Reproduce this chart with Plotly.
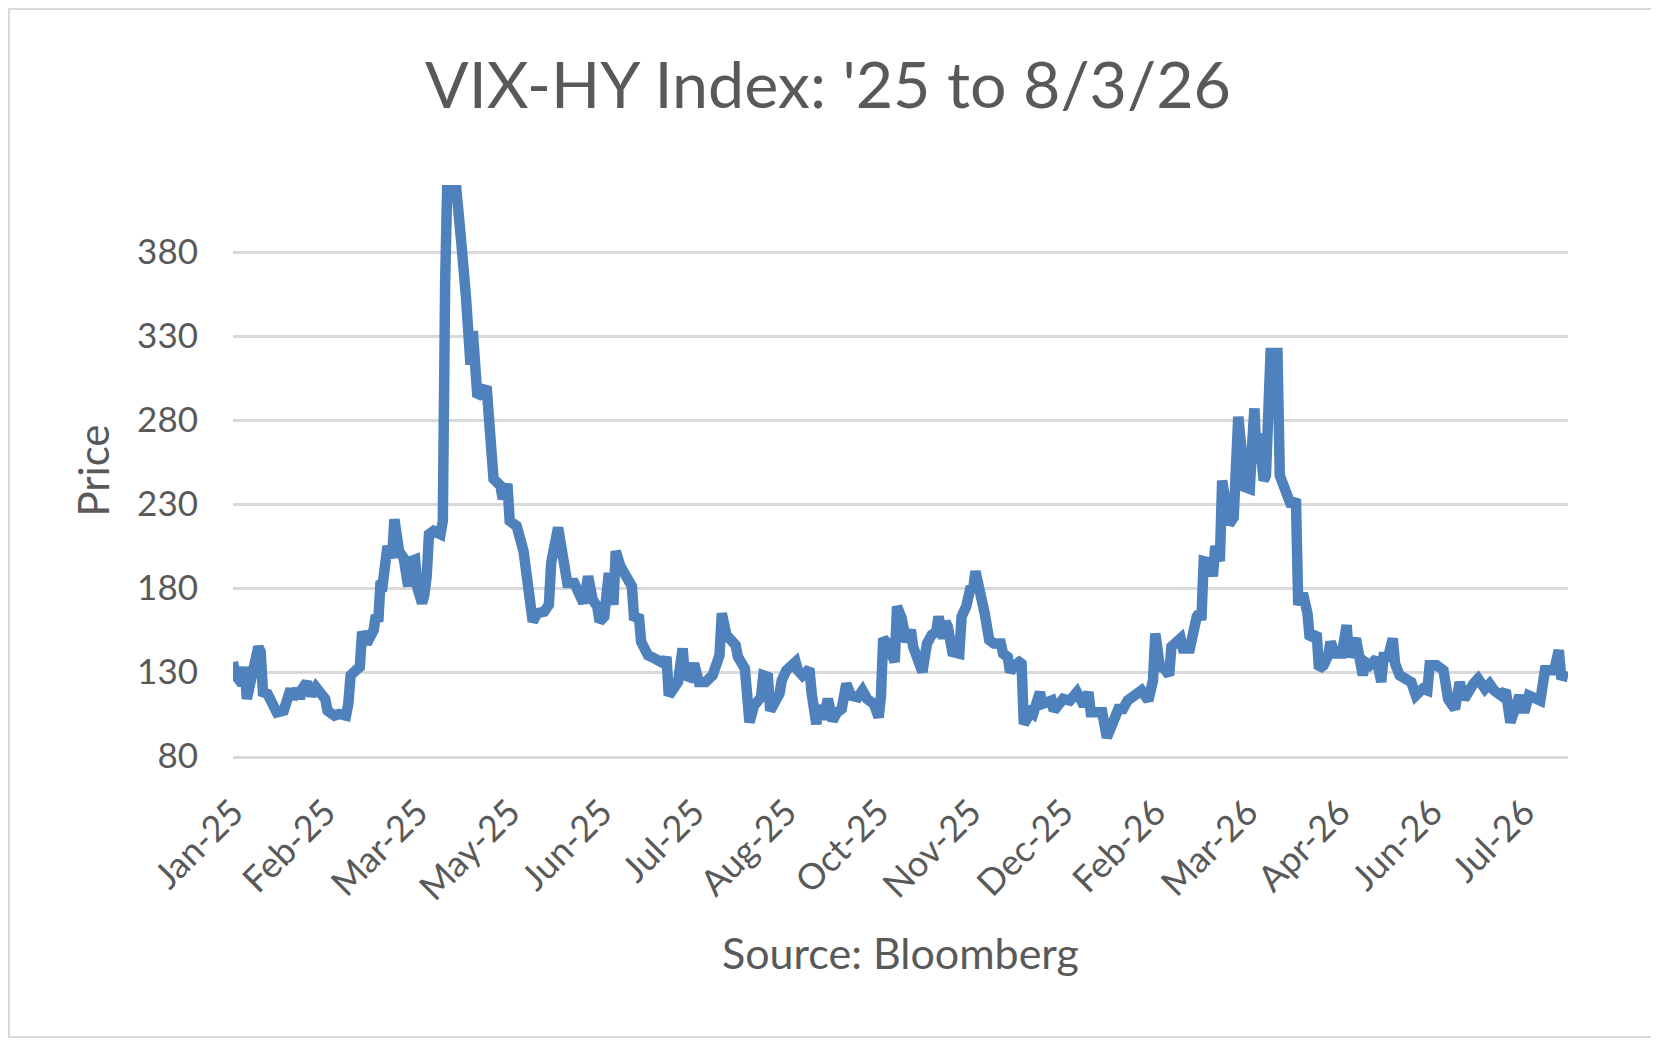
import plotly.graph_objects as go

# Excel-like palette
LINE_BLUE = "#4f81bd"
TEXT_GREY = "#595959"
GRID_GREY = "#d9d9d9"
FONT = "Lato, 'Open Sans', sans-serif"

# VIX-HY index readings (Bloomberg)
dates_2025 = [
    "2025-01-01", "2025-01-02", "2025-01-05", "2025-01-06", "2025-01-07", "2025-01-09",
    "2025-01-12", "2025-01-13", "2025-01-14", "2025-01-16", "2025-01-18", "2025-01-20",
    "2025-01-23", "2025-01-26", "2025-01-27", "2025-01-29", "2025-01-30", "2025-01-31",
    "2025-02-02", "2025-02-04", "2025-02-06", "2025-02-10", "2025-02-11", "2025-02-14",
    "2025-02-16", "2025-02-19", "2025-02-20", "2025-02-21", "2025-02-24", "2025-02-25",
    "2025-02-26", "2025-02-28",
    "2025-03-03", "2025-03-04", "2025-03-05", "2025-03-06", "2025-03-07", "2025-03-09",
    "2025-03-11", "2025-03-12", "2025-03-14", "2025-03-16", "2025-03-18", "2025-03-19",
    "2025-03-21", "2025-03-22", "2025-03-24", "2025-03-25", "2025-03-26", "2025-03-27",
    "2025-03-29",
    "2025-04-01", "2025-04-02", "2025-04-03", "2025-04-04", "2025-04-07", "2025-04-09",
    "2025-04-10", "2025-04-12", "2025-04-13", "2025-04-14", "2025-04-15", "2025-04-16",
    "2025-04-17", "2025-04-19", "2025-04-21", "2025-04-23", "2025-04-24", "2025-04-27",
    "2025-04-28", "2025-04-30",
    "2025-05-01", "2025-05-04", "2025-05-06", "2025-05-07", "2025-05-09", "2025-05-11",
    "2025-05-13", "2025-05-16", "2025-05-18", "2025-05-19", "2025-05-22", "2025-05-24",
    "2025-05-26", "2025-05-29", "2025-05-31",
    "2025-06-02", "2025-06-04", "2025-06-06", "2025-06-08", "2025-06-09", "2025-06-11",
    "2025-06-12", "2025-06-13", "2025-06-15", "2025-06-16", "2025-06-18", "2025-06-21",
    "2025-06-23", "2025-06-24", "2025-06-26", "2025-06-27", "2025-06-30",
    "2025-07-03", "2025-07-07", "2025-07-08", "2025-07-09", "2025-07-10", "2025-07-13",
    "2025-07-14", "2025-07-15", "2025-07-16", "2025-07-18", "2025-07-20", "2025-07-22",
    "2025-07-25", "2025-07-28", "2025-07-30", "2025-07-31",
    "2025-08-01", "2025-08-03", "2025-08-07", "2025-08-08", "2025-08-11", "2025-08-13",
    "2025-08-15", "2025-08-18", "2025-08-19", "2025-08-21", "2025-08-22", "2025-08-24",
    "2025-08-26", "2025-08-27", "2025-08-29",
    "2025-09-02", "2025-09-03", "2025-09-05", "2025-09-08", "2025-09-09", "2025-09-11",
    "2025-09-12", "2025-09-14", "2025-09-16", "2025-09-18", "2025-09-20", "2025-09-22",
    "2025-09-24", "2025-09-26", "2025-09-29",
    "2025-10-01", "2025-10-03", "2025-10-06", "2025-10-08", "2025-10-09", "2025-10-10",
    "2025-10-12", "2025-10-15", "2025-10-16", "2025-10-18", "2025-10-19", "2025-10-20",
    "2025-10-22", "2025-10-23", "2025-10-27", "2025-10-29", "2025-10-31",
    "2025-11-02", "2025-11-03", "2025-11-05", "2025-11-06", "2025-11-07", "2025-11-09",
    "2025-11-12", "2025-11-13", "2025-11-15", "2025-11-17", "2025-11-18", "2025-11-19",
    "2025-11-21", "2025-11-23", "2025-11-25", "2025-11-27", "2025-11-30",
    "2025-12-01", "2025-12-03", "2025-12-04", "2025-12-06", "2025-12-08", "2025-12-09",
    "2025-12-10", "2025-12-13", "2025-12-14", "2025-12-17", "2025-12-18", "2025-12-22",
    "2025-12-23", "2025-12-27", "2025-12-30",
]
vix_hy_2025 = [
    136, 128, 123, 133, 114, 129, 145, 142, 118, 117, 112, 106, 107, 120, 114, 120, 114, 120,
    124, 116, 121, 114, 107, 104, 105, 104, 111, 128, 132, 133, 154, 147,
    155, 164, 160, 184, 183, 205, 198, 221, 202, 198, 181, 196, 197, 180, 171, 176, 187, 212,
    214,
    212, 220, 361, 425, 430, 389, 386, 354, 336, 313, 333, 315, 294, 296, 300, 263, 245, 241,
    233, 242,
    220, 217, 206, 202, 181, 160, 165, 166, 170, 195, 216, 195, 183, 183, 178,
    171, 187, 173, 169, 160, 163, 189, 189, 170, 202, 193, 186, 181, 161, 164, 148, 140,
    138, 135, 139, 116, 118, 124, 142, 144, 128, 127, 135, 124, 124, 128, 136, 140,
    165, 152, 146, 139, 132, 100, 110, 115, 128, 127, 107, 113, 117, 125, 131,
    136, 131, 128, 132, 117, 99, 110, 102, 114, 101, 106, 108, 123, 116, 115,
    119, 114, 111, 103, 115, 150, 147, 136, 169, 162, 149, 148, 155, 145, 130, 147, 152,
    154, 163, 150, 160, 157, 142, 141, 163, 169, 181, 179, 190, 179, 165, 149, 147, 147,
    141, 139, 130, 134, 136, 135, 99, 106, 105, 118, 111, 113, 107, 114, 113,
]

dates_2026 = [
    "2026-01-02", "2026-01-05", "2026-01-07", "2026-01-08", "2026-01-13", "2026-01-15",
    "2026-01-20", "2026-01-22", "2026-01-24", "2026-01-27", "2026-01-30",
    "2026-02-02", "2026-02-04", "2026-02-05", "2026-02-07", "2026-02-09", "2026-02-11",
    "2026-02-12", "2026-02-16", "2026-02-17", "2026-02-20", "2026-02-23", "2026-02-24",
    "2026-02-25", "2026-02-26",
    "2026-03-01", "2026-03-02", "2026-03-03", "2026-03-05", "2026-03-06", "2026-03-08",
    "2026-03-09", "2026-03-11", "2026-03-12", "2026-03-13", "2026-03-16", "2026-03-18",
    "2026-03-19", "2026-03-20", "2026-03-21", "2026-03-22", "2026-03-24", "2026-03-25",
    "2026-03-27", "2026-03-30", "2026-03-31",
    "2026-04-03", "2026-04-05", "2026-04-07", "2026-04-08", "2026-04-10", "2026-04-12",
    "2026-04-13", "2026-04-16", "2026-04-17", "2026-04-19", "2026-04-21", "2026-04-22",
    "2026-04-24", "2026-04-27", "2026-04-29", "2026-04-30",
    "2026-05-03", "2026-05-06", "2026-05-07", "2026-05-09", "2026-05-12", "2026-05-14",
    "2026-05-15", "2026-05-17", "2026-05-19", "2026-05-20", "2026-05-22", "2026-05-27",
    "2026-05-29",
    "2026-06-01", "2026-06-03", "2026-06-04", "2026-06-07", "2026-06-10", "2026-06-12",
    "2026-06-15", "2026-06-17", "2026-06-19", "2026-06-23", "2026-06-25", "2026-06-28",
    "2026-06-30",
    "2026-07-02", "2026-07-05", "2026-07-07", "2026-07-08", "2026-07-09", "2026-07-13",
    "2026-07-15", "2026-07-17", "2026-07-22", "2026-07-24", "2026-07-28", "2026-07-30",
    "2026-07-31",
    "2026-08-03",
]
vix_hy_2026 = [
    118, 110, 118, 106, 106, 91, 108, 108, 113, 116, 119,
    113, 125, 153, 133, 132, 128, 145, 150, 144, 144, 163, 165, 161, 196,
    195, 187, 205, 196, 244, 222, 218, 222, 274, 282, 240, 239, 265, 287, 254, 272, 244, 247,
    320, 320, 247,
    238, 229, 233, 170, 177, 165, 150, 153, 132, 134, 140, 148, 141, 141, 158, 139,
    150, 128, 136, 134, 138, 124, 139, 139, 150, 135, 128, 124, 116,
    120, 119, 134, 134, 131, 114, 108, 124, 114, 123, 126, 120, 123,
    119, 116, 119, 105, 100, 116, 106, 116, 113, 131, 131, 143, 128,
    127,
]

y_ticks = [80, 130, 180, 230, 280, 330, 380]
x_start, x_end = "2025-01-01", "2026-08-03"
tick_days = 40  # Excel date axis major unit

# page body margin pushes the figure 8px right/down, so work in page pixels
PAGE_W, PAGE_H, OFFSET = 1659, 1045, 8
W, H = PAGE_W - OFFSET, PAGE_H - OFFSET
PLOT_L, PLOT_R, PLOT_T, PLOT_B = 233, 1568, 185, 756


def px_to_paper(px_x=None, px_y=None):
    if px_x is not None:
        return (px_x - PLOT_L) / (PLOT_R - PLOT_L)
    return (PLOT_B - px_y) / (PLOT_B - PLOT_T)


fig = go.Figure(
    go.Scatter(
        x=dates_2025 + dates_2026,
        y=vix_hy_2025 + vix_hy_2026,
        mode="lines",
        line={"color": LINE_BLUE, "width": 10.5},
        hovertemplate="%{x|%d %b %Y}: %{y}<extra></extra>",
    )
)

fig.update_layout(
    width=W,
    height=H,
    margin={
        "l": PLOT_L - OFFSET,
        "r": PAGE_W - PLOT_R,
        "t": PLOT_T - OFFSET,
        "b": PAGE_H - PLOT_B,
    },
    paper_bgcolor="white",
    plot_bgcolor="white",
    showlegend=False,
    font={"family": FONT, "color": TEXT_GREY},
    title={
        "text": "VIX-HY Index: '25 to 8/3/26",
        "x": (828 - OFFSET) / W,
        "xanchor": "center",
        "y": 1 - (85 - OFFSET) / H,
        "yanchor": "middle",
        "font": {"size": 64.5, "color": TEXT_GREY, "family": FONT},
    },
    xaxis={
        "type": "date",
        "range": [x_start, x_end],
        "tick0": x_start,
        "dtick": tick_days * 86400000,
        "tickformat": "%b-%y",
        "tickangle": -45,
        "tickfont": {"size": 36, "color": TEXT_GREY},
        "ticklabelstandoff": 18,
        "showgrid": False,
        "zeroline": False,
        "showline": True,
        "linecolor": GRID_GREY,
        "linewidth": 2.5,
        "ticks": "",
    },
    yaxis={
        "range": [80, 420],
        "tickvals": y_ticks,
        "tickfont": {"size": 35, "color": TEXT_GREY},
        "ticklabelstandoff": 34,
        "showgrid": True,
        "gridcolor": GRID_GREY,
        "gridwidth": 2.5,
        "zeroline": False,
        "showline": False,
        "ticks": "",
    },
    annotations=[
        {
            "text": "Price",
            "textangle": -90,
            "xref": "paper",
            "yref": "paper",
            "x": px_to_paper(px_x=92),
            "y": 0.5,
            "xanchor": "center",
            "yanchor": "middle",
            "showarrow": False,
            "font": {"size": 42, "color": TEXT_GREY},
        },
        {
            "text": "Source: Bloomberg",
            "xref": "paper",
            "yref": "paper",
            "x": 0.5,
            "y": px_to_paper(px_y=952),
            "xanchor": "center",
            "yanchor": "middle",
            "showarrow": False,
            "font": {"size": 43, "color": TEXT_GREY},
        },
    ],
    shapes=[
        {
            "type": "rect",
            "xref": "paper",
            "yref": "paper",
            "x0": px_to_paper(px_x=OFFSET + 1),
            "x1": px_to_paper(px_x=1653),
            "y0": px_to_paper(px_y=1037),
            "y1": px_to_paper(px_y=OFFSET + 1),
            "line": {"color": GRID_GREY, "width": 2},
            "layer": "below",
        }
    ],
)

fig.write_html("out.html")
